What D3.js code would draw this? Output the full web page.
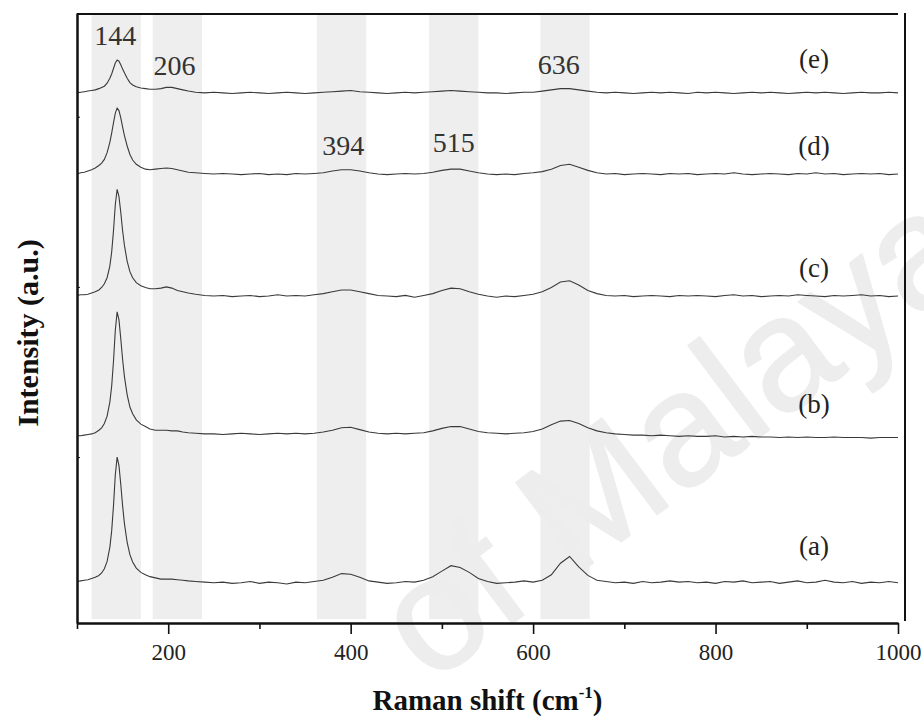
<!DOCTYPE html>
<html>
<head>
<meta charset="utf-8">
<script src="https://cdn.jsdelivr.net/npm/d3@7"></script>
<style>
  body { margin: 0; background: #fff; }
  svg { display: block; }
</style>
</head>
<body>
<svg id="chart"></svg>
<script>
// Raman shift grid (cm-1), finer around the 144 peak
const ramanShift = [100,104,108,112,116,120,124,127,130,133,136,138,140,142,144,146,148,150,152,155,
  158,161,165,170,175,180,186,192,198,204,210,216,222,230,240,250,
  260,270,280,290,300,310,320,330,340,350,360,370,380,390,400,410,420,430,440,450,
  460,470,480,490,500,510,520,530,540,550,560,570,580,590,600,610,620,630,640,650,
  660,670,680,690,700,710,720,730,740,750,760,770,780,790,800,810,820,830,840,850,
  860,870,880,890,900,910,920,930,940,950,960,970,980,990,1000];

// Intensities (a.u.) of each spectrum, before stacking
const seriesA = [2,3,4,5,7,9,12,16,23,35,
  58,85,126,177,206,192,161,126,97,66,
  46,34,24,17,13,10,8,6,6,6,
  5,4,3,2,1,0,
  1,-1,0,2,-1,1,0,-2,1,0,
  2,4,9,15,14,9,3,1,-1,0,
  2,1,4,10,19,28,25,17,7,2,
  -1,0,1,3,1,4,13,32,43,26,
  12,4,2,0,1,-1,2,0,1,3,
  1,2,0,1,-1,2,1,3,0,1,
  2,-1,1,3,0,1,4,1,0,2,
  -1,1,0,2,0];
const seriesB = [0,0,1,2,3,5,9,13,20,32,
  55,81,122,173,203,190,159,125,97,67,
  47,36,26,19,15,11,9,9,9,8,
  8,6,5,4,3,3,
  2,3,4,3,2,3,4,3,4,3,
  4,6,9,13,14,10,6,4,3,4,
  3,4,5,8,12,15,15,11,7,5,
  4,3,4,5,7,11,18,24,25,20,
  13,8,5,3,2,1,1,0,1,0,
  -1,0,-1,-1,0,-2,-1,-2,-1,-2,
  -2,-3,-2,-3,-2,-3,-3,-2,-3,-3,
  -3,-4,-3,-3,-3];
const seriesC = [1,2,2,3,5,7,10,14,20,30,
  49,72,107,150,175,163,137,107,83,57,
  40,30,22,17,14,12,12,13,15,13,
  9,7,5,3,1,0,
  1,-1,0,1,-1,0,2,0,1,0,
  2,4,7,10,10,7,4,1,0,-1,
  1,-2,1,4,9,13,12,7,3,0,
  -2,0,-1,1,3,7,14,23,25,18,
  9,4,1,0,1,-1,0,1,0,-1,
  1,0,1,0,-1,1,2,0,1,-1,
  0,1,0,2,1,0,-1,1,0,1,
  2,0,1,-1,0];
const seriesD = [0,2,3,5,7,10,14,18,24,35,
  52,67,84,100,108,104,92,77,63,46,
  32,23,16,11,8,7,8,9,10,9,
  7,5,3,2,1,0,
  1,0,-1,0,1,-1,0,-1,1,0,
  1,2,5,7,7,5,2,0,-1,0,
  1,0,1,3,6,8,8,5,2,0,
  -1,0,-1,1,2,4,8,14,16,11,
  6,2,0,1,-1,0,1,0,-1,1,
  0,1,-1,0,1,0,2,0,-1,0,
  1,0,-1,1,0,2,0,1,-1,0,
  1,0,1,-1,0];
const seriesE = [0,1,2,3,4,5,7,9,11,16,
  24,31,40,49,54,52,46,39,33,24,
  17,13,10,8,7,6,6,7,9,9,
  7,5,3,1,0,1,
  0,-1,0,1,0,-1,0,1,0,-1,
  0,1,2,3,4,2,1,0,-1,0,
  1,0,1,2,3,4,3,2,1,0,
  0,-1,0,1,1,3,5,7,7,5,
  3,1,0,1,0,-1,0,1,0,1,
  0,-1,1,0,1,0,-1,0,1,0,
  1,0,-1,0,1,0,1,0,-1,0,
  1,0,0,1,0];

const seriesNames = ["(a)", "(b)", "(c)", "(d)", "(e)"];
const seriesOffsets = [66, 307, 536, 736, 869];

// Shaded peak regions (cm-1) and peak labels
const bands = [[116, 170], [183, 237], [363, 417], [486, 540], [608, 662]];
const peakLabels = ["144", "206", "394", "515", "636"];
const peakPositions = [142, 207, 392, 513, 628];

const xMajorTicks = [200, 400, 600, 800, 1000];
const xMinorTicks = [100, 300, 500, 700, 900];
const yTicks = [272, 551, 830];

const width = 924, height = 719;
const plot = {left: 77, right: 898, top: 13, bottom: 623};
const serif = "'Liberation Serif', 'Times New Roman', serif";

const svg = d3.select("#chart")
  .attr("width", width)
  .attr("height", height)
  .style("background", "#fff");

const xScale = d3.scaleLinear().domain([100, 1000]).range([plot.left, plot.right]);
const yScale = d3.scaleLinear().domain([0, 1000]).range([plot.bottom, plot.top]);

// grey bands behind the peaks
svg.selectAll("rect.band")
  .data(bands)
  .join("rect")
  .attr("class", "band")
  .attr("x", d => xScale(d[0]))
  .attr("width", d => xScale(d[1]) - xScale(d[0]))
  .attr("y", 15)
  .attr("height", 604)
  .attr("fill", "#eeeeee");

// watermark
svg.append("text")
  .attr("transform", "translate(984,268) rotate(-37)")
  .attr("text-anchor", "end")
  .style("font-family", "'Liberation Sans', Arial, sans-serif")
  .style("font-size", "160px")
  .attr("fill", "#ededed")
  .attr("stroke", "#ededed")
  .attr("stroke-width", 2)
  .attr("stroke-linejoin", "round")
  .text("of Malaya");

// spectra
const allSeries = [seriesA, seriesB, seriesC, seriesD, seriesE];
allSeries.forEach((values, i) => {
  const line = d3.line()
    .x((v, j) => xScale(ramanShift[j]))
    .y(v => yScale(v + seriesOffsets[i]));
  svg.append("path")
    .datum(values)
    .attr("d", line)
    .attr("fill", "none")
    .attr("stroke", "#3a3a3a")
    .attr("stroke-width", 1.1);
});

// x axis, major ticks with labels
const xAxis = svg.append("g")
  .attr("transform", `translate(0,${plot.bottom})`)
  .call(d3.axisBottom(xScale)
    .tickValues(xMajorTicks)
    .tickSize(11)
    .tickPadding(10)
    .tickSizeOuter(0)
    .tickFormat(d3.format("d")));
xAxis.select(".domain").attr("stroke", "#111").attr("stroke-width", 2.5);
xAxis.selectAll(".tick line").attr("stroke", "#111").attr("stroke-width", 1.6);
xAxis.selectAll(".tick text")
  .style("font-family", serif)
  .style("font-size", "23px")
  .attr("fill", "#222");

// minor ticks
const xMinor = svg.append("g")
  .attr("transform", `translate(0,${plot.bottom})`)
  .call(d3.axisBottom(xScale).tickValues(xMinorTicks).tickSize(6).tickFormat(""));
xMinor.select(".domain").remove();
xMinor.selectAll(".tick line").attr("stroke", "#111").attr("stroke-width", 1.6);

// y axis (no labels)
const yAxis = svg.append("g")
  .attr("transform", `translate(${plot.left},0)`)
  .call(d3.axisLeft(yScale).tickValues(yTicks).tickSize(-3).tickSizeOuter(0).tickFormat(""));
yAxis.select(".domain").attr("stroke", "#111").attr("stroke-width", 2.5);
yAxis.selectAll(".tick line").attr("stroke", "#111");

// frame
svg.append("line")
  .attr("x1", plot.left).attr("x2", plot.right)
  .attr("y1", 14).attr("y2", 14)
  .attr("stroke", "#111").attr("stroke-width", 2);
svg.append("line")
  .attr("x1", 905).attr("x2", 905)
  .attr("y1", 13).attr("y2", 621)
  .attr("stroke", "#111").attr("stroke-width", 2);

// peak labels
const peakLabelY = [45, 75, 155, 152, 74];
svg.selectAll("text.peak")
  .data(peakLabels)
  .join("text")
  .attr("class", "peak")
  .attr("x", (d, i) => xScale(peakPositions[i]))
  .attr("y", (d, i) => peakLabelY[i])
  .attr("text-anchor", "middle")
  .style("font-family", serif)
  .style("font-size", "28px")
  .attr("fill", "#333")
  .text(d => d);

// series labels
const seriesLabelGap = [28, 23, 19, 19, 25];
svg.selectAll("text.series")
  .data(seriesNames)
  .join("text")
  .attr("class", "series")
  .attr("x", 814)
  .attr("y", (d, i) => yScale(seriesOffsets[i]) - seriesLabelGap[i])
  .attr("text-anchor", "middle")
  .style("font-family", serif)
  .style("font-size", "27px")
  .attr("fill", "#222")
  .text(d => d);

// axis titles
const xTitle = svg.append("text")
  .attr("x", (plot.left + plot.right) / 2)
  .attr("y", 710)
  .attr("text-anchor", "middle")
  .style("font-family", serif)
  .style("font-size", "29px")
  .style("font-weight", "bold")
  .attr("fill", "#111");
xTitle.append("tspan").text("Raman shift (cm");
xTitle.append("tspan").attr("dy", -12).style("font-size", "17px").text("-1");
xTitle.append("tspan").attr("dy", 12).text(")");

svg.append("text")
  .attr("transform", "translate(38,333) rotate(-90)")
  .attr("text-anchor", "middle")
  .style("font-family", serif)
  .style("font-size", "30px")
  .style("font-weight", "bold")
  .attr("fill", "#111")
  .text("Intensity (a.u.)");
</script>
</body>
</html>
